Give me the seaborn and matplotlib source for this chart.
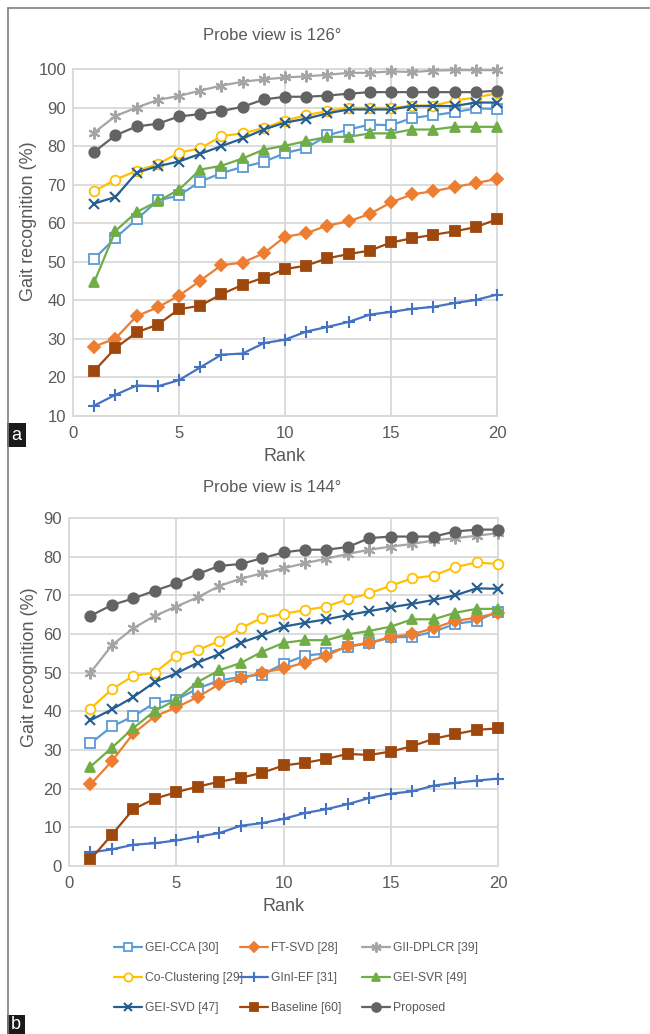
import numpy as np
import pandas as pd
import matplotlib
matplotlib.use("Agg")
import matplotlib.pyplot as plt
import seaborn as sns
from matplotlib.lines import Line2D
from matplotlib.patches import Rectangle

ranks = list(range(1, 21))
methods = ["GEI-CCA [30]", "FT-SVD [28]", "GII-DPLCR [39]", "Co-Clustering [29]",
           "GInI-EF [31]", "GEI-SVR [49]", "GEI-SVD [47]", "Baseline [60]", "Proposed"]

# Panel a: probe view 126°
gei_cca_a = [50.8, 56.2, 61.0, 65.9, 67.2, 70.8, 73.0, 74.6, 75.9, 78.2, 79.5, 82.8, 84.3, 85.6, 85.4, 87.3, 88.0, 88.8, 89.8, 89.6]
ft_svd_a = [28.0, 30.1, 35.9, 38.2, 41.2, 45.1, 49.1, 49.8, 52.2, 56.5, 57.4, 59.4, 60.5, 62.4, 65.4, 67.5, 68.3, 69.4, 70.4, 71.5]
gii_a = [83.5, 87.8, 90.0, 92.0, 93.0, 94.4, 95.7, 96.7, 97.3, 97.8, 98.1, 98.5, 99.0, 99.0, 99.4, 99.2, 99.6, 99.7, 99.7, 99.7]
cocl_a = [68.3, 71.3, 73.6, 75.3, 78.3, 79.4, 82.6, 83.3, 84.7, 86.6, 88.0, 89.1, 89.9, 89.9, 89.9, 90.5, 90.5, 91.8, 92.6, 93.7]
ginief_a = [12.7, 15.5, 17.9, 17.7, 19.3, 22.6, 25.9, 26.2, 28.9, 29.8, 31.9, 33.1, 34.4, 36.3, 37.0, 37.8, 38.3, 39.3, 40.1, 41.5]
geisvr_a = [44.7, 58.0, 62.9, 65.7, 68.7, 73.9, 74.9, 76.8, 79.1, 80.1, 81.3, 82.4, 82.4, 83.3, 83.3, 84.3, 84.3, 85.0, 85.0, 85.0]
geisvd_a = [65.1, 66.8, 73.1, 74.8, 76.0, 78.0, 80.0, 82.0, 84.3, 86.1, 87.1, 88.5, 89.5, 89.5, 89.5, 90.4, 90.4, 90.4, 91.3, 91.3]
base_a = [21.7, 27.6, 31.7, 33.7, 37.7, 38.6, 41.6, 44.0, 45.9, 48.1, 49.0, 50.9, 52.0, 52.9, 55.0, 56.1, 57.0, 57.9, 59.0, 61.0]
prop_a = [78.5, 82.8, 85.1, 85.8, 87.7, 88.3, 89.1, 90.2, 92.1, 92.8, 92.8, 93.1, 93.6, 94.0, 94.0, 94.0, 94.0, 94.0, 94.0, 94.4]

# Panel b: probe view 144°
gei_cca_b = [31.7, 36.1, 38.7, 42.2, 43.0, 45.9, 48.0, 48.9, 49.5, 52.3, 54.4, 55.0, 56.7, 57.6, 59.1, 59.3, 60.6, 62.6, 63.4, 65.8]
ft_svd_b = [21.1, 27.1, 34.3, 38.7, 41.0, 43.7, 47.0, 48.5, 50.0, 51.1, 52.6, 54.4, 56.9, 57.7, 59.3, 59.9, 61.5, 63.4, 64.2, 65.5]
gii_b = [50.0, 57.1, 61.5, 64.7, 67.1, 69.5, 72.4, 74.3, 75.7, 77.0, 78.3, 79.5, 80.7, 81.8, 82.6, 83.3, 84.2, 84.8, 85.4, 86.1]
cocl_b = [40.7, 45.7, 49.2, 50.0, 54.4, 55.8, 58.2, 61.5, 64.2, 65.2, 66.2, 67.1, 69.0, 70.5, 72.5, 74.4, 75.1, 77.3, 78.5, 78.1]
ginief_b = [3.5, 4.3, 5.5, 5.9, 6.6, 7.6, 8.5, 10.4, 11.1, 12.2, 13.7, 14.7, 16.0, 17.6, 18.7, 19.3, 20.8, 21.5, 22.1, 22.6]
geisvr_b = [25.7, 30.6, 35.7, 40.1, 43.0, 47.6, 50.6, 52.5, 55.4, 57.7, 58.4, 58.4, 59.9, 60.8, 61.9, 63.8, 63.8, 65.5, 66.5, 66.5]
geisvd_b = [37.7, 40.5, 43.7, 47.6, 49.8, 52.6, 54.8, 57.7, 59.7, 61.9, 62.9, 63.8, 64.9, 65.9, 66.9, 67.8, 68.8, 70.0, 71.8, 71.7]
base_b = [1.7, 8.1, 14.7, 17.4, 19.1, 20.5, 21.8, 22.8, 24.1, 26.0, 26.7, 27.7, 29.0, 28.7, 29.6, 31.0, 32.9, 34.1, 35.2, 35.6]
prop_b = [64.7, 67.5, 69.2, 71.2, 73.1, 75.5, 77.6, 78.1, 79.6, 81.1, 81.8, 81.8, 82.5, 84.8, 85.2, 85.2, 85.2, 86.5, 87.0, 87.0]

series_a = [gei_cca_a, ft_svd_a, gii_a, cocl_a, ginief_a, geisvr_a, geisvd_a, base_a, prop_a]
series_b = [gei_cca_b, ft_svd_b, gii_b, cocl_b, ginief_b, geisvr_b, geisvd_b, base_b, prop_b]

colors = ["#5B9BD5", "#ED7D31", "#A5A5A5", "#FFC000", "#4472C4", "#70AD47", "#255E91", "#9E480E", "#636363"]
markers = ["s", "D", (6, 2, 0), "o", "+", "^", "x", "s", "o"]
open_m = [True, False, False, True, False, False, False, False, False]
msizes = [6.5, 6.0, 8.5, 7.0, 8.0, 7.0, 7.5, 7.0, 7.5]

sns.set_theme(style="white")
FONT = ["Liberation Sans", "DejaVu Sans"]
plt.rcParams["font.family"] = FONT
TXT = "#595959"
GRID = "#D9D9D9"

fig = plt.figure(figsize=(6.5, 10.34), dpi=100)
W, H = 650.0, 1034.0

def axes_px(l, r, t, b):
    return fig.add_axes([l / W, 1 - b / H, (r - l) / W, (b - t) / H])

def marker_kw(i, scale=1.0):
    m = markers[i]
    kw = dict(marker=m, markersize=msizes[i] * scale, markeredgecolor=colors[i])
    if m in ("+", "x", (6, 2, 0)):
        kw["markeredgewidth"] = 1.5
    else:
        kw["markeredgewidth"] = 1.3
        kw["markerfacecolor"] = "white" if open_m[i] else colors[i]
    return kw

def panel(ax, series, ylo, yhi, ylab_xy):
    for i, vals in enumerate(series):
        df = pd.DataFrame({"Rank": ranks, "val": vals})
        sns.lineplot(data=df, x="Rank", y="val", ax=ax, color=colors[i], linewidth=1.6,
                     label=methods[i], clip_on=False, zorder=3 + i * 0.01, **marker_kw(i))
    ax.set_xlim(0, 20)
    ax.set_ylim(ylo, yhi)
    ax.set_xticks([0, 5, 10, 15, 20])
    ax.set_yticks(np.arange(ylo, yhi + 1, 10))
    ax.grid(True, color=GRID, linewidth=1.3)
    for s in ax.spines.values():
        s.set_visible(True)
        s.set_color(GRID)
        s.set_linewidth(1.3)
    ax.tick_params(length=0, labelsize=12, labelcolor=TXT)
    ax.tick_params(axis="x", pad=7)
    ax.tick_params(axis="y", pad=5)
    ax.set_xlabel("Rank", fontsize=13, color=TXT, labelpad=5)
    ax.set_ylabel("Gait recognition (%)", fontsize=13, color=TXT, va="center")
    ax.yaxis.set_label_coords(*ylab_xy)
    ax.get_legend().remove()
    ax.set_axisbelow(True)

ax1 = axes_px(73, 497, 69, 416)
panel(ax1, series_a, 10, 100, ((29 - 73) / 424, (416 - 221) / 347))
ax2 = axes_px(69, 498, 518, 866)
panel(ax2, series_b, 0, 90, ((30 - 69) / 429, (866 - 667) / 348))

fig.text(272 / W, 1 - 36 / H, "Probe view is 126°", ha="center", va="center", fontsize=12, color=TXT)
fig.text(272 / W, 1 - 487 / H, "Probe view is 144°", ha="center", va="center", fontsize=12, color=TXT)

# legend, three columns of equal width
col_x = [114, 240, 362]
for c in range(3):
    idx = [c, c + 3, c + 6]
    hs = [Line2D([], [], color=colors[i], linewidth=1.6, **marker_kw(i, 0.85)) for i in idx]
    fig.legend(hs, [methods[i] for i in idx], loc="upper left",
               bbox_to_anchor=(col_x[c] / W, 1 - 942 / H), frameon=False,
               fontsize=8.7, labelcolor=TXT, handlelength=2.3, handletextpad=0.3,
               labelspacing=1.5, borderaxespad=0, borderpad=0)

# outer frame
fig.add_artist(Line2D([7.5 / W, 7.5 / W], [0, 1 - 8 / H], color="#7F7F7F", linewidth=1.2))
fig.add_artist(Line2D([7.5 / W, 1], [1 - 8 / H, 1 - 8 / H], color="#7F7F7F", linewidth=1.2))

# panel labels
for lab, (x0, y0, x1, y1) in [("a", (7, 423, 26, 447)), ("b", (7, 1015, 25, 1034))]:
    fig.add_artist(Rectangle((x0 / W, 1 - y1 / H), (x1 - x0) / W, (y1 - y0) / H,
                             facecolor="#1a1a1a", edgecolor="none", transform=fig.transFigure))
    fig.text((x0 + x1) / 2 / W, 1 - (y0 + y1) / 2 / H, lab, ha="center", va="center",
             color="white", fontsize=13)

fig.savefig("out.png", dpi=100)
